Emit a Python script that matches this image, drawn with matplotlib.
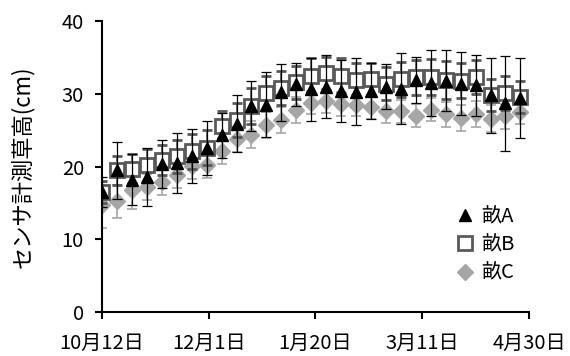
import numpy as np
import pandas as pd
import matplotlib
matplotlib.use("Agg")
import matplotlib.pyplot as plt
import matplotlib.dates as mdates

plt.rcParams['font.family'] = ['Noto Sans CJK JP', 'DejaVu Sans']

dates = pd.date_range("2013-10-12", periods=29, freq="7D")

a_vals = [16.5, 19.5, 18.2, 18.6, 20.4, 20.5, 21.5, 22.5, 24.3, 25.9, 28.3, 28.5, 30.2, 31.3,
          30.6, 31.0, 30.4, 30.3, 30.4, 31.0, 30.7, 31.9, 31.5, 31.8, 31.4, 31.2, 29.8, 28.7, 29.4]
a_err = [2.0, 3.9, 3.5, 4.0, 3.3, 4.1, 3.7, 3.7, 3.1, 3.9, 3.4, 4.5, 3.9, 3.0,
         4.4, 4.3, 4.3, 4.6, 3.8, 3.1, 4.9, 3.2, 4.5, 4.2, 4.3, 4.2, 5.2, 6.5, 5.5]
b_vals = [16.5, 19.5, 19.7, 20.2, 20.9, 21.4, 22.1, 22.6, 25.6, 26.4, 28.3, 30.1, 30.8, 31.6,
          32.5, 32.8, 32.5, 31.9, 32.0, 31.4, 32.0, 32.3, 32.3, 31.9, 31.8, 32.3, 29.8, 30.1, 29.6]
b_err = [1.5, 2.0, 2.0, 2.2, 2.0, 2.3, 2.4, 2.4, 2.0, 2.3, 2.5, 2.3, 2.4, 2.3,
         2.4, 2.3, 2.4, 2.3, 2.2, 2.3, 2.4, 2.4, 2.5, 2.6, 2.4, 2.3, 2.2, 2.3, 2.2]
c_vals = [14.7, 15.2, 16.8, 17.2, 17.9, 18.9, 20.1, 20.2, 22.1, 23.8, 24.4, 25.7, 26.4, 27.8,
          28.8, 29.0, 28.6, 28.4, 28.2, 27.6, 27.6, 27.0, 27.8, 27.2, 26.7, 27.2, 26.6, 26.9, 27.5]
c_err = [3.2, 2.3, 2.7, 1.8, 1.8, 1.8, 1.8, 1.8, 1.8, 1.8, 1.8, 1.8, 1.8, 1.8,
         1.6, 1.6, 1.6, 1.5, 1.6, 1.6, 1.6, 1.6, 1.6, 1.7, 1.8, 1.8, 1.8, 1.7, 1.7]

labels = ["畝A", "畝B", "畝C"]
tick_dates = pd.to_datetime(["2013-10-12", "2013-12-01", "2014-01-20", "2014-03-11", "2014-04-30"])
tick_labels = ["10月12日", "12月1日", "1月20日", "3月11日", "4月30日"]

fig = plt.figure(figsize=(5.7, 3.56), dpi=100)
ax = fig.add_axes([0.179, 0.1236, 0.749, 0.817])

hc = ax.errorbar(dates, c_vals, yerr=c_err, fmt='D', color='#a6a6a6', ecolor='#a6a6a6',
                 markersize=8.5, elinewidth=1.2, capsize=3.5, capthick=1.2, label=labels[2], zorder=2)
hb = ax.errorbar(dates, b_vals, yerr=b_err, fmt='s', color='#595959', ecolor='#595959',
                 markerfacecolor='white', markeredgecolor='#595959', markeredgewidth=2,
                 markersize=10, elinewidth=1.2, capsize=3.5, capthick=1.2, label=labels[1], zorder=3)
ha = ax.errorbar(dates, a_vals, yerr=a_err, fmt='^', color='black', ecolor='black',
                 markersize=8.5, elinewidth=0.9, capsize=3.5, capthick=0.9, label=labels[0], zorder=4)

ax.set_ylim(0, 40)
ax.set_yticks([0, 10, 20, 30, 40])
ax.set_xlim(tick_dates[0], tick_dates[-1])
ax.set_xticks(tick_dates)
ax.set_xticklabels(tick_labels)
ax.set_ylabel("センサ計測草高(cm)", fontsize=16, labelpad=20)

for s in ['top', 'right']:
    ax.spines[s].set_visible(False)
for s in ['left', 'bottom']:
    ax.spines[s].set_linewidth(1.5)
    ax.spines[s].set_color('black')
ax.tick_params(axis='both', direction='out', length=5, width=1.5, labelsize=14.5, colors='black')
ax.tick_params(axis='x', pad=10)
ax.tick_params(axis='y', pad=8)

leg = ax.legend(handles=[ha[0], hb[0], hc[0]], labels=labels, loc='lower right',
                bbox_to_anchor=(0.985, 0.07), frameon=False, fontsize=14.5,
                handletextpad=0.3, labelspacing=0.35, handlelength=1.0, borderaxespad=0)
for t in leg.get_texts():
    t.set_color('black')

fig.savefig("out.png", dpi=100)
